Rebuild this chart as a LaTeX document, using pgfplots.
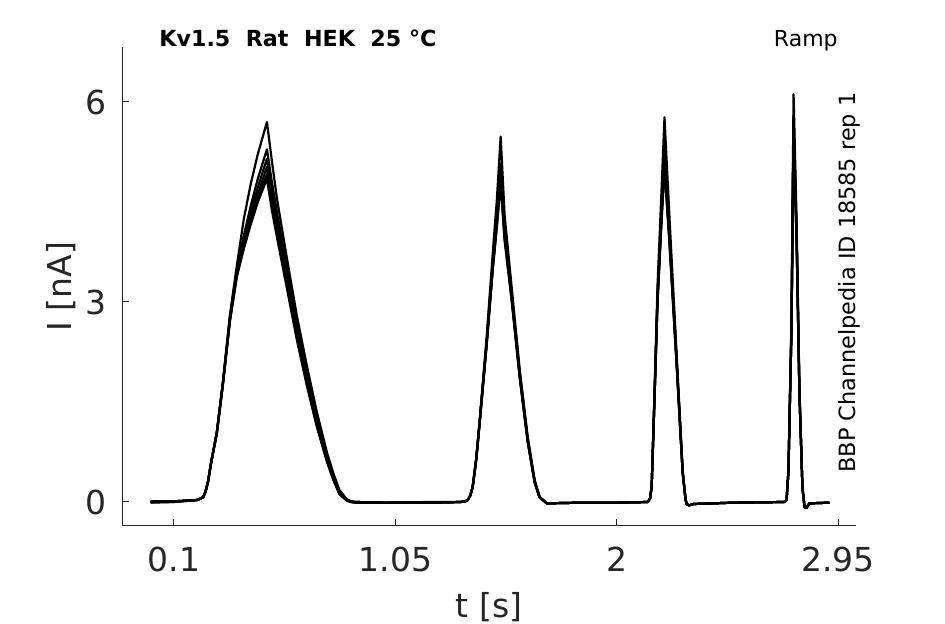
\documentclass[border=0pt]{standalone}
\usepackage{fontspec}
\setmainfont{DejaVu Sans}
\usepackage{pgfplots}
\usepackage{pgfplotstable}
\pgfplotsset{compat=1.18}
\definecolor{axgray}{HTML}{262626}
\pgfplotstableread{
x a b c d e f
0.000 0.00 0.00 -0.01 0.00 0.01 0.00
0.100 0.01 0.01 0.00 0.01 0.01 0.00
0.200 0.03 0.03 0.03 0.03 0.03 0.03
0.225 0.07 0.07 0.07 0.07 0.07 0.07
0.235 0.15 0.15 0.15 0.15 0.15 0.15
0.246 0.30 0.30 0.30 0.30 0.30 0.30
0.260 0.60 0.60 0.60 0.60 0.60 0.60
0.284 1.05 1.05 1.04 1.04 1.03 1.03
0.310 1.80 1.79 1.78 1.77 1.77 1.76
0.340 2.80 2.77 2.75 2.73 2.72 2.71
0.370 3.55 3.50 3.45 3.42 3.40 3.38
0.400 4.25 4.00 3.92 3.88 3.84 3.80
0.430 4.78 4.45 4.35 4.28 4.22 4.17
0.460 5.22 4.85 4.72 4.62 4.55 4.50
0.499 5.70 5.29 5.15 5.03 4.92 4.85
0.520 5.12 4.80 4.66 4.55 4.45 4.38
0.542 4.55 4.35 4.22 4.12 4.03 3.97
0.585 3.65 3.50 3.40 3.32 3.25 3.20
0.627 2.80 2.68 2.60 2.54 2.48 2.44
0.670 2.05 1.95 1.88 1.83 1.78 1.75
0.713 1.35 1.27 1.22 1.18 1.15 1.13
0.756 0.75 0.70 0.66 0.64 0.62 0.61
0.785 0.42 0.38 0.35 0.34 0.33 0.32
0.810 0.18 0.15 0.14 0.13 0.12 0.12
0.842 0.04 0.03 0.03 0.02 0.02 0.02
0.860 0.01 0.01 0.00 0.00 0.00 0.00
0.880 0.00 0.00 -0.01 0.00 -0.01 0.00
1.000 -0.01 -0.01 -0.01 -0.01 -0.01 -0.01
1.200 -0.01 -0.01 0.00 -0.01 -0.01 -0.01
1.330 0.00 0.00 0.00 0.00 0.00 0.00
1.350 0.01 0.01 0.01 0.01 0.01 0.01
1.361 0.03 0.03 0.03 0.03 0.03 0.03
1.372 0.10 0.10 0.10 0.10 0.10 0.10
1.382 0.23 0.23 0.23 0.23 0.23 0.23
1.397 0.65 0.64 0.64 0.63 0.63 0.63
1.412 1.23 1.21 1.20 1.20 1.19 1.19
1.442 2.48 2.42 2.40 2.38 2.37 2.36
1.468 3.73 3.60 3.55 3.52 3.50 3.48
1.485 4.50 4.30 4.22 4.17 4.13 4.10
1.502 5.48 5.08 4.95 4.88 4.82 4.78
1.519 4.30 4.12 4.04 3.99 3.95 3.92
1.549 3.23 3.14 3.10 3.07 3.05 3.03
1.584 1.98 1.93 1.90 1.88 1.87 1.86
1.618 0.98 0.95 0.93 0.92 0.91 0.90
1.648 0.33 0.31 0.30 0.30 0.29 0.29
1.669 0.08 0.07 0.07 0.07 0.07 0.07
1.700 -0.02 -0.02 -0.02 -0.02 -0.02 -0.02
1.850 -0.01 -0.01 -0.01 -0.01 -0.01 -0.01
2.000 -0.01 -0.01 -0.01 -0.01 -0.01 -0.01
2.133 0.00 0.00 0.00 0.00 0.00 0.00
2.143 0.05 0.05 0.05 0.05 0.05 0.05
2.150 0.23 0.23 0.23 0.23 0.23 0.23
2.163 1.73 1.68 1.66 1.65 1.64 1.63
2.175 3.23 3.10 3.05 3.02 3.00 2.98
2.193 4.73 4.45 4.38 4.32 4.28 4.25
2.205 5.77 5.35 5.22 5.12 5.05 5.00
2.227 4.23 4.02 3.95 3.90 3.87 3.85
2.257 2.23 2.15 2.12 2.10 2.08 2.07
2.283 0.48 0.46 0.45 0.45 0.44 0.44
2.295 0.05 0.05 0.05 0.05 0.05 0.05
2.300 -0.03 -0.03 -0.03 -0.03 -0.03 -0.03
2.310 -0.05 -0.05 -0.05 -0.05 -0.05 -0.05
2.330 -0.03 -0.03 -0.03 -0.03 -0.03 -0.03
2.500 -0.01 -0.01 -0.01 -0.01 -0.01 -0.01
2.720 0.00 0.00 0.00 0.00 0.00 0.00
2.729 0.03 0.03 0.03 0.03 0.03 0.03
2.737 0.48 0.47 0.47 0.46 0.46 0.46
2.750 2.73 2.65 2.62 2.60 2.58 2.57
2.759 6.12 5.80 5.70 5.62 5.55 5.50
2.772 4.23 4.05 4.00 3.96 3.93 3.90
2.784 1.73 1.68 1.66 1.65 1.64 1.63
2.797 0.23 0.22 0.22 0.22 0.22 0.22
2.806 -0.08 -0.08 -0.08 -0.08 -0.08 -0.08
2.814 -0.09 -0.09 -0.09 -0.09 -0.09 -0.09
2.827 -0.02 -0.02 -0.02 -0.02 -0.02 -0.02
2.913 -0.01 -0.01 -0.01 -0.01 -0.01 -0.01
}\data
\begin{document}
\begin{tikzpicture}
\useasboundingbox (0,0) rectangle (472.5pt,312pt);
\begin{axis}[
  at={(61pt,49pt)}, anchor=south west,
  width=367pt, height=239.5pt, scale only axis,
  xmin=-0.123, xmax=3.027, ymin=-0.36, ymax=6.825,
  axis lines=left,
  axis line style={draw=axgray, line width=0.5pt, -},
  tick align=inside,
  major tick length=3.5pt,
  tick style={draw=axgray, line width=0.5pt},
  xtick={0.1,1.05,2,2.95}, xticklabels={0.1,1.05,2,2.95},
  ytick={0,3,6}, yticklabels={0,3,6},
  minor tick num=0,
  ticklabel style={font=\fontsize{16.5}{16.5}\selectfont, text=axgray, inner sep=0pt},
  xticklabel style={anchor=north, yshift=-10.5pt},
  yticklabel style={anchor=east, xshift=-7.5pt},
  xlabel={t [s]}, ylabel={I [nA]},
  label style={font=\fontsize{16.5}{16.5}\selectfont, text=axgray, inner sep=0pt},
  xlabel style={at={(axis description cs:0.5,0)}, anchor=north, yshift=-33pt},
  ylabel style={at={(axis description cs:0,0.5)}, anchor=north, yshift=38pt},
  clip=false,
]
\addplot[black, line width=1.1pt, line join=round] table[x=x, y=f] {\data};
\addplot[black, line width=1.1pt, line join=round] table[x=x, y=e] {\data};
\addplot[black, line width=1.1pt, line join=round] table[x=x, y=d] {\data};
\addplot[black, line width=1.1pt, line join=round] table[x=x, y=c] {\data};
\addplot[black, line width=1.1pt, line join=round] table[x=x, y=b] {\data};
\addplot[black, line width=1.1pt, line join=round] table[x=x, y=a] {\data};
\end{axis}
\node[anchor=base west, inner sep=0pt, font=\fontsize{11.1}{11.1}\selectfont\bfseries] at (79.5pt,288.5pt) {Kv1.5\ \ Rat\ \ HEK\ \ 25 °C};
\node[anchor=base east, inner sep=0pt, font=\fontsize{11}{11}\selectfont] at (419pt,288.6pt) {Ramp};
\node[anchor=base west, inner sep=0pt, rotate=90, font=\fontsize{11.2}{11.2}\selectfont] at (427.5pt,75.5pt) {BBP Channelpedia ID 18585 rep 1};
\end{tikzpicture}
\end{document}
